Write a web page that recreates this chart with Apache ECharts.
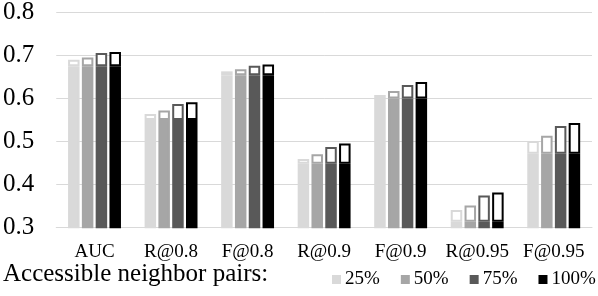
<!DOCTYPE html>
<html>
<head>
<meta charset="utf-8">
<script src="https://cdn.jsdelivr.net/npm/echarts@6/dist/echarts.min.js"></script>
<style>html,body{margin:0;padding:0;background:#fff;}#c{width:598px;height:296px;}</style>
</head>
<body>
<div id="c"></div>
<script>
var categories = ['AUC', 'R@0.8', 'F@0.8', 'R@0.9', 'F@0.9', 'R@0.95', 'F@0.95'];
var baseValues = [0.675, 0.550, 0.654, 0.448, 0.600, 0.313, 0.471];
var seriesNames = ['25%', '50%', '75%', '100%'];
var total25 = [0.690, 0.564, 0.663, 0.459, 0.608, 0.340, 0.501];
var total50 = [0.695, 0.572, 0.668, 0.470, 0.617, 0.351, 0.513];
var total75 = [0.706, 0.587, 0.676, 0.487, 0.631, 0.374, 0.536];
var total100 = [0.708, 0.591, 0.679, 0.495, 0.638, 0.381, 0.543];
var yTicks = [0.3, 0.4, 0.5, 0.6, 0.7, 0.8];

var totals = [total25, total50, total75, total100];
var colors = ['#d9d9d9', '#a6a6a6', '#595959', '#000000'];
var FONT = 'Liberation Serif';

var series = [];
seriesNames.forEach(function (name, i) {
  series.push({
    name: name, type: 'bar', stack: 's' + i, barWidth: 11.5, barGap: '20%', barCategoryGap: '28%',
    data: baseValues.slice(),
    itemStyle: { color: colors[i], borderColor: colors[i], borderWidth: 2 },
    emphasis: { disabled: true }, animation: false
  });
  series.push({
    name: name + ' gain', type: 'bar', stack: 's' + i, barWidth: 11.5, barGap: '20%',
    data: totals[i].map(function (v, k) { return +(v - baseValues[k]).toFixed(4); }),
    itemStyle: { color: '#ffffff', borderColor: colors[i], borderWidth: 2 },
    emphasis: { disabled: true }, animation: false
  });
});

var chart = echarts.init(document.getElementById('c'), null, { renderer: 'canvas' });
chart.setOption({
  animation: false,
  grid: { left: 56, right: 6, top: 10.7, bottom: 68.7 },
  xAxis: {
    type: 'category', data: categories,
    axisLine: { lineStyle: { color: '#d9d9d9', width: 1 } },
    axisTick: { show: false },
    axisLabel: { color: '#000', fontFamily: FONT, fontSize: 19, margin: 15, interval: 0 }
  },
  yAxis: {
    type: 'value', min: yTicks[0], max: yTicks[yTicks.length - 1], interval: 0.1,
    axisLine: { show: false }, axisTick: { show: false },
    splitLine: { lineStyle: { color: '#d9d9d9', width: 1 } },
    axisLabel: { color: '#000', fontFamily: FONT, fontSize: 25, margin: 22,
      formatter: function (v) { return v.toFixed(1); } }
  },
  legend: {
    data: seriesNames.map(function (n, i) { return { name: n, itemStyle: { color: colors[i], borderWidth: 0 } }; }),
    left: 332, top: 270, width: 300, padding: 0, itemWidth: 9, itemHeight: 9, itemGap: 21,
    icon: 'rect',
    textStyle: { color: '#000', fontFamily: FONT, fontSize: 19, padding: [2, 0, 0, -1] },
    selectedMode: false
  },
  graphic: [{
    type: 'text', left: 3, top: 262,
    style: { text: 'Accessible neighbor pairs:', fill: '#000', font: '25px "Liberation Serif"' }
  }],
  series: series
});
</script>
</body>
</html>
